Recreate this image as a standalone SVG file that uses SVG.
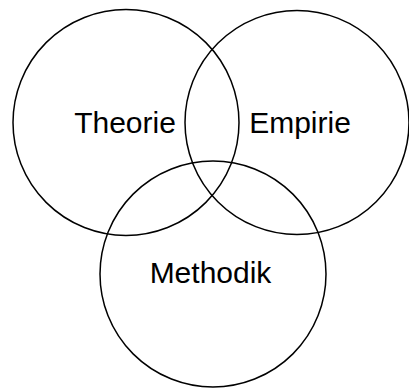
<svg xmlns="http://www.w3.org/2000/svg" width="409" height="389" viewBox="0 0 409 389">
<style>
.c{fill:none;stroke:#000;stroke-width:1.5}
.t{font-family:"Liberation Sans",Arial,sans-serif;font-size:30px;fill:#000;text-anchor:middle}
</style>
<rect width="409" height="389" fill="#fff"/>
<g id="theorie"><circle class="c" cx="126" cy="122.5" r="113"/><text class="t" x="125" y="133">Theorie</text></g>
<g id="empirie"><circle class="c" cx="297" cy="122.5" r="112"/><text class="t" x="300" y="133">Empirie</text></g>
<g id="methodik"><circle class="c" cx="213" cy="274" r="113"/><text class="t" x="210.5" y="283">Methodik</text></g>
<g id="connectors"/>
</svg>
